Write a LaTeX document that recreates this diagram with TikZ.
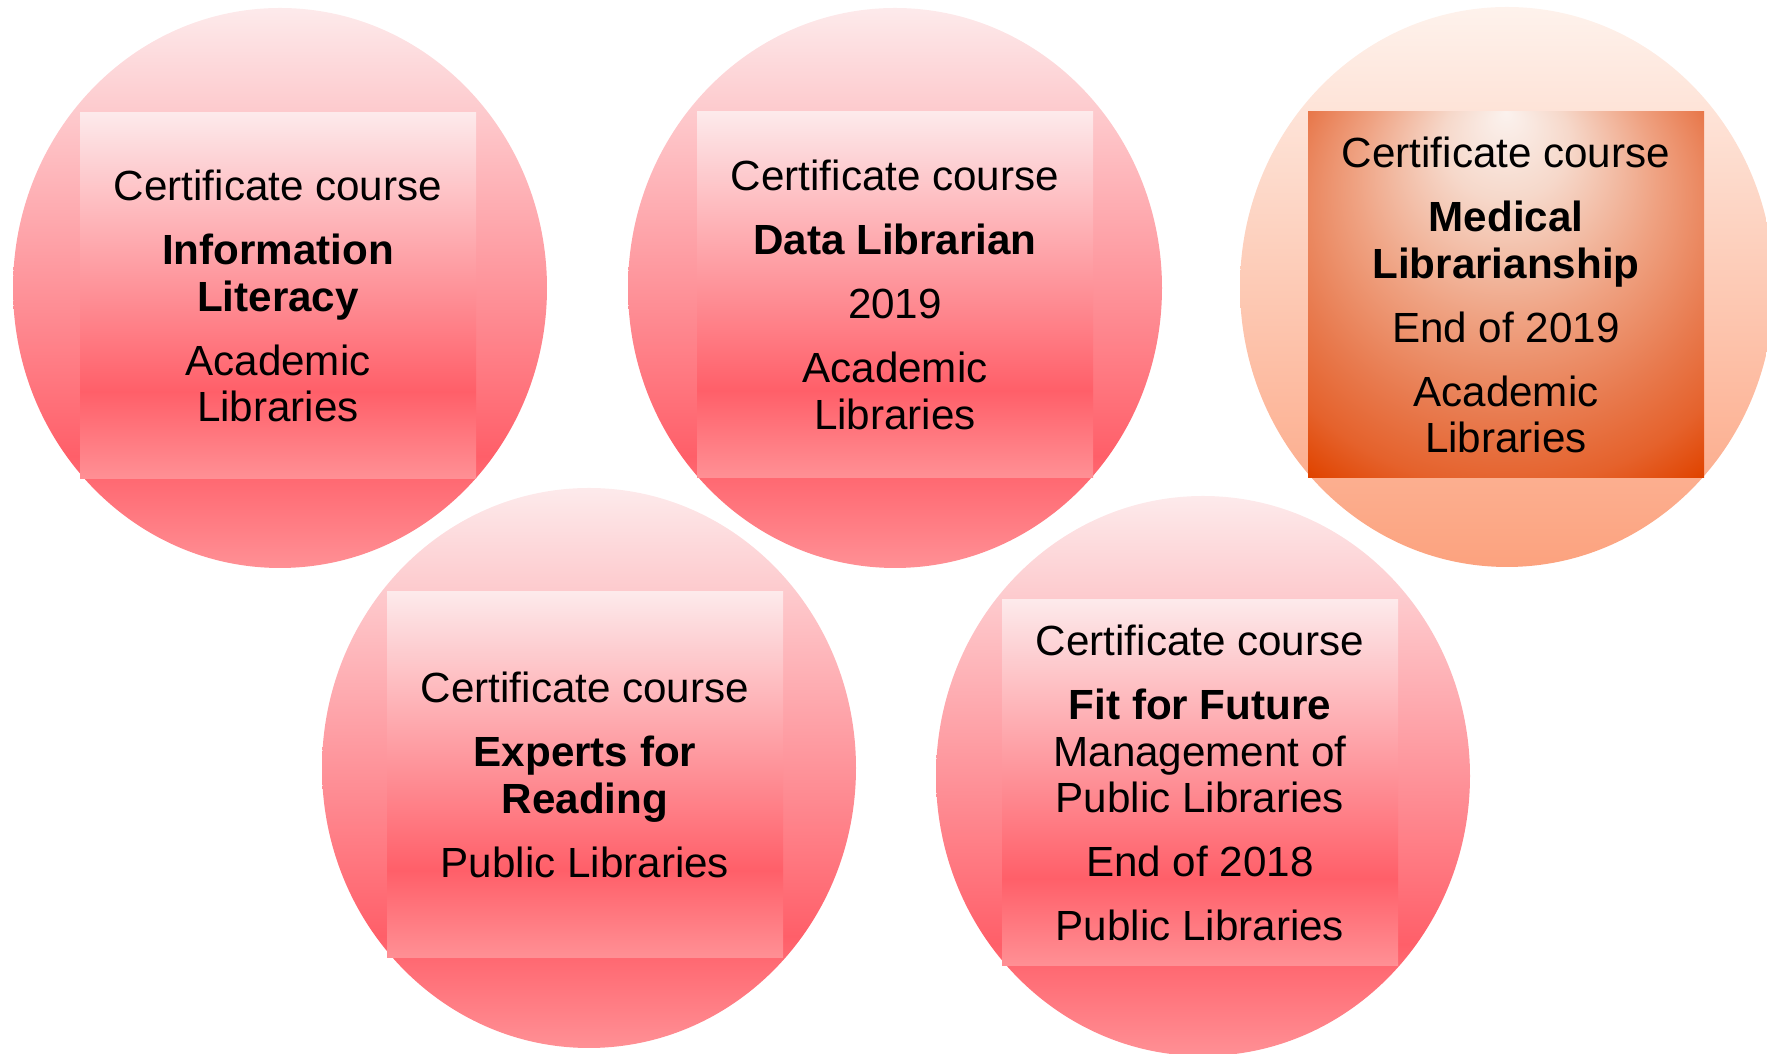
\documentclass[tikz,border=0pt]{standalone}
\usepackage{fontspec}
\setmainfont{Liberation Sans}
\usetikzlibrary{shapes.geometric,positioning}

\definecolor{pinktop}{HTML}{FDEAEB}
\definecolor{pinkmid}{HTML}{FF5F69}
\definecolor{pinkbot}{HTML}{FF9095}
\definecolor{peachtop}{HTML}{FEF2EC}
\definecolor{peachbot}{HTML}{FCA27E}
\definecolor{orA}{HTML}{FBF2EE}
\definecolor{orB}{HTML}{F6D8CA}
\definecolor{orC}{HTML}{EFA282}
\definecolor{orD}{HTML}{E87A4E}
\definecolor{orE}{HTML}{E5622C}
\definecolor{orF}{HTML}{E04400}

\pgfdeclareverticalshading{pinkdisc}{100bp}{color(0bp)=(pinkbot); color(25bp)=(pinkbot); color(35bp)=(pinkmid); color(75bp)=(pinktop); color(100bp)=(pinktop)}
\pgfdeclareverticalshading{pinkbox}{100bp}{color(0bp)=(pinkbot); color(25bp)=(pinkbot); color(37bp)=(pinkmid); color(75bp)=(pinktop); color(100bp)=(pinktop)}
\pgfdeclareverticalshading{peachdisc}{100bp}{color(0bp)=(peachbot); color(25bp)=(peachbot); color(75bp)=(peachtop); color(100bp)=(peachtop)}
\pgfdeclareradialshading{orangebox}{\pgfpoint{0bp}{25bp}}{color(0bp)=(orA); color(8bp)=(orB); color(19bp)=(orC); color(28bp)=(orD); color(34bp)=(orE); color(39bp)=(orF); color(50bp)=(orF)}

\tikzset{
  disc/.style={ellipse,minimum width=53.4mm,minimum height=56mm,inner sep=0pt},
  reddisc/.style={disc,shade,shading=pinkdisc},
  orangedisc/.style={disc,shade,shading=peachdisc},
  course/.style={rectangle,minimum width=39.6mm,minimum height=36.6mm,inner sep=0pt,
    align=center,font=\fontsize{12}{13.2}\selectfont},
  redcourse/.style={course,shade,shading=pinkbox},
  orangecourse/.style={course,shade,shading=orangebox}
}

\begin{document}
\begin{tikzpicture}[x=0.1mm,y=-0.1mm]
\clip (0,0) rectangle (1767,1054);
\useasboundingbox (0,0) rectangle (1767,1054);

\node[reddisc] (infoDisc) at (280,288) {};
\node[reddisc] (dataDisc) at (895,288) {};
\node[orangedisc] (medDisc) at (1507,287) {};
\node[reddisc] (readDisc) at (589,768) {};
\node[reddisc] (futureDisc) at (1203,776) {};

\node[redcourse] (infoBox) at (278,296) {Certificate course\\[5pt]
  \textbf{Information}\\\textbf{Literacy}\\[5pt]
  Academic\\Libraries};
\node[redcourse] (dataBox) at (895,295) {Certificate course\\[5pt]
  \textbf{Data Librarian}\\[5pt]
  2019\\[5pt]
  Academic\\Libraries};
\node[orangecourse] (medBox) at (1506,295) {Certificate course\\[5pt]
  \textbf{Medical}\\\textbf{Librarianship}\\[5pt]
  End of 2019\\[5pt]
  Academic\\Libraries};
\node[redcourse] (readBox) at (585,775) {Certificate course\\[5pt]
  \textbf{Experts for}\\\textbf{Reading}\\[5pt]
  Public Libraries};
\node[redcourse] (futureBox) at (1200,783) {Certificate course\\[5pt]
  \textbf{Fit for Future}\\Management of\\Public Libraries\\[5pt]
  End of 2018\\[5pt]
  Public Libraries};
\end{tikzpicture}
\end{document}
